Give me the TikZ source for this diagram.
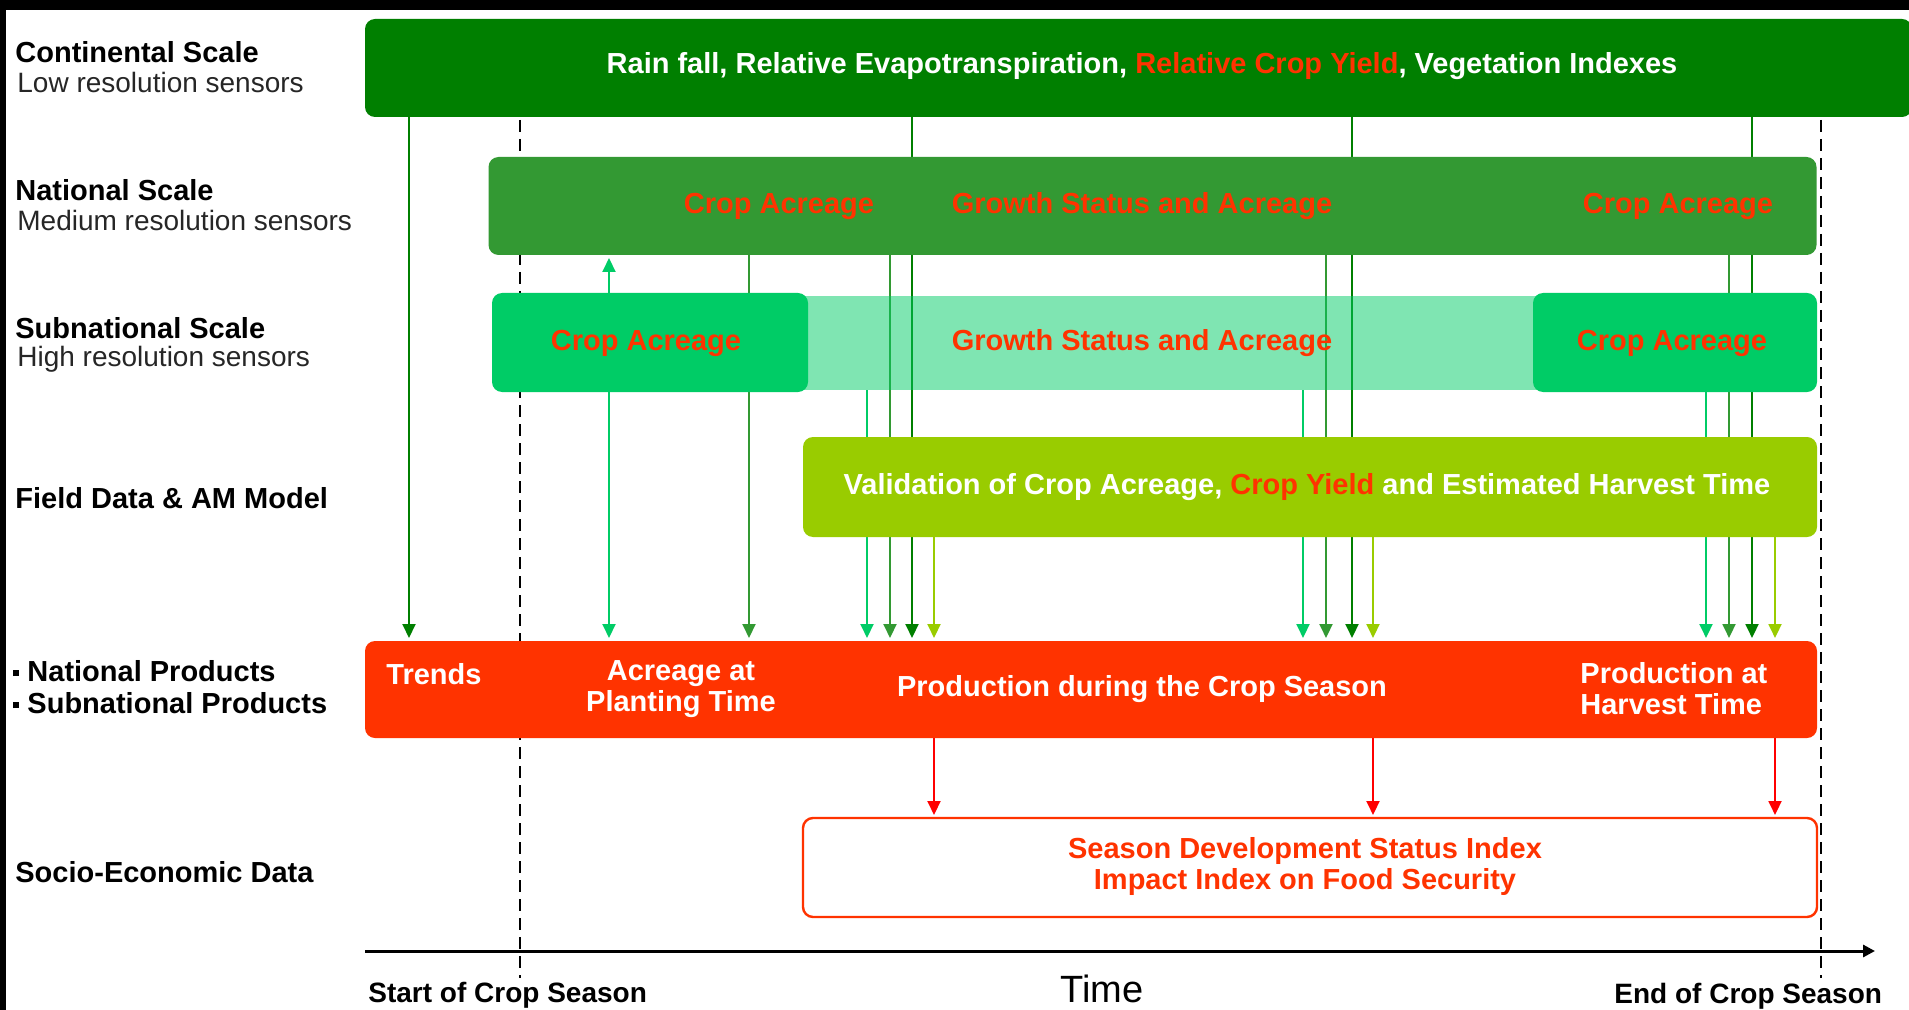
\documentclass[tikz,border=0pt]{standalone}
\usepackage{fontspec}
\setmainfont{Liberation Sans}
\usetikzlibrary{arrows.meta}

\definecolor{contgreen}{HTML}{007F00}
\definecolor{natgreen}{HTML}{339933}
\definecolor{subgreen}{HTML}{00CC66}
\definecolor{fieldgreen}{HTML}{99CC00}
\definecolor{prodred}{HTML}{FF3300}
\definecolor{linkred}{HTML}{FF0000}

\tikzset{
  box/.style={rounded corners=5pt, inner sep=0pt, outer sep=0pt},
  lab/.style={anchor=west, inner sep=0pt, font=\bfseries\fontsize{14.5}{16}\selectfont},
  sublab/.style={anchor=west, inner sep=0pt, font=\fontsize{14}{15}\selectfont, text=black!85},
  intext/.style={inner sep=0pt, font=\bfseries\fontsize{14.5}{15.5}\selectfont, text=white, align=center},
  redtext/.style={intext, text=prodred},
  feed/.style={line width=1pt, -{Triangle[length=7pt,width=6.5pt]}, shorten >=1.5pt},
  season/.style={line width=1.2pt, dash pattern=on 6pt off 3.5pt},
  axlab/.style={anchor=west, inner sep=0pt, font=\bfseries\fontsize{14}{16}\selectfont},
}

\begin{document}
\begin{tikzpicture}[x=0.5pt,y=-0.5pt]
\useasboundingbox (0,0) rectangle (1909,1010);
\fill[white] (0,0) rectangle (1909,1010);
\fill[black] (0,0) rectangle (1909,10);
\fill[black] (0,0) rectangle (6,1010);

% x positions of the feeds
\foreach \n/\x in {c1/409,c2/912,c3/1352,c4/1752,
                   n1/749,n2/890,n3/1326,n4/1729,
                   s1/609,s2/867,s3/1303,s4/1706,
                   f1/934,f2/1373,f3/1775}
  \coordinate (\n) at (\x,0);

% season limits
\coordinate (st0) at (520,120);
\coordinate (st1) at (520,978);
\coordinate (en0) at (1821,120);
\coordinate (en1) at (1821,978);
\draw[season] (st0) -- (st1);
\draw[season] (en0) -- (en1);

% box outlines as named nodes
\path
  (1138.5,68)  node[box, minimum width=773.5pt, minimum height=49pt] (cont) {}
  (1152.5,206) node[box, minimum width=664pt,   minimum height=49pt] (nat) {}
  (650,342.5)  node[box, minimum width=158pt,   minimum height=49.5pt] (subL) {}
  (1172.5,343) node[box, minimum width=372.5pt, minimum height=47pt] (subM) {}
  (1675,342.5) node[box, minimum width=142pt,   minimum height=49.5pt] (subR) {}
  (1310,487)   node[box, minimum width=507pt,   minimum height=50pt] (field) {}
  (1091,689.5) node[box, minimum width=726pt,   minimum height=48.5pt] (prod) {}
  (1310,867.5) node[box, minimum width=507pt,   minimum height=49.5pt] (socio) {};

% connectors into the products bar
\foreach \p in {c1,c2,c3,c4}
  \draw[feed, contgreen] (cont.south -| \p) -- (prod.north -| \p);
\foreach \p in {n1,n2,n3,n4}
  \draw[feed, natgreen] (nat.south -| \p) -- (prod.north -| \p);
\draw[feed, subgreen] (subL.south -| s1) -- (prod.north -| s1);
\draw[feed, subgreen] (subM.south -| s2) -- (prod.north -| s2);
\draw[feed, subgreen] (subM.south -| s3) -- (prod.north -| s3);
\draw[feed, subgreen] (subR.south -| s4) -- (prod.north -| s4);
\draw[feed, subgreen] (subL.north -| s1) -- (nat.south -| s1);
\foreach \p in {f1,f2,f3}
  \draw[feed, fieldgreen] (field.south -| \p) -- (prod.north -| \p);
\foreach \p in {f1,f2,f3}
  \draw[feed, linkred] (prod.south -| \p) -- (socio.north -| \p);

% filled boxes
\fill[contgreen, rounded corners=5pt] (cont.north west) rectangle (cont.south east);
\fill[natgreen, rounded corners=5pt] (nat.north west) rectangle (nat.south east);
\fill[subgreen, fill opacity=0.5] (subM.north west) rectangle (subM.south east);
\fill[subgreen, rounded corners=5pt] (subL.north west) rectangle (subL.south east);
\fill[subgreen, rounded corners=5pt] (subR.north west) rectangle (subR.south east);
\fill[fieldgreen, rounded corners=5pt] (field.north west) rectangle (field.south east);
\fill[prodred, rounded corners=5pt] (prod.north west) rectangle (prod.south east);
\draw[prodred, line width=1.2pt, fill=white, rounded corners=5pt] (socio.north west) rectangle (socio.south east);

% texts in the boxes
\node[intext] (tcont) at (1142,66) {Rain fall, Relative Evapotranspiration, \textcolor{prodred}{Relative Crop Yield}, Vegetation Indexes};
\node[redtext] (tn1) at (779,206) {Crop Acreage};
\node[redtext] (tn2) at (1142,206) {Growth Status and Acreage};
\node[redtext] (tn3) at (1678,206) {Crop Acreage};
\node[redtext] (ts1) at (646,343) {Crop Acreage};
\node[redtext] (ts2) at (1142,343) {Growth Status and Acreage};
\node[redtext] (ts3) at (1672,343) {Crop Acreage};
\node[intext] (tf) at (1307,487) {Validation of Crop Acreage, \textcolor{prodred}{Crop Yield} and Estimated Harvest Time};
\node[intext] (tp1) at (434,674) {Trends};
\node[intext] (tp2) at (681,689) {Acreage at\\Planting Time};
\node[intext] (tp3) at (1142,689) {Production during the Crop Season};
\node[intext, align=left, anchor=west] (tp4) at (1580,689) {Production at\\Harvest Time};
\node[redtext] (tso) at (1305,866) {Season Development Status Index\\Impact Index on Food Security};

% row labels
\node[lab] (l1) at (15,52) {Continental Scale};
\node[sublab] (l1b) at (17,82) {Low resolution sensors};
\node[lab] (l2) at (15,190) {National Scale};
\node[sublab] (l2b) at (17,220) {Medium resolution sensors};
\node[lab] (l3) at (15,328) {Subnational Scale};
\node[sublab] (l3b) at (17,359) {High resolution sensors};
\node[lab] (l4) at (15,498) {Field Data \& AM Model};
\node[lab] (l5) at (13,671) {\raisebox{0.35ex}{\rule{3pt}{3pt}}\ National Products};
\node[lab] (l5b) at (13,703) {\raisebox{0.35ex}{\rule{3pt}{3pt}}\ Subnational Products};
\node[lab] (l6) at (15,872) {Socio-Economic Data};

% time axis
\coordinate (axL) at (365,951);
\coordinate (axR) at (1875,951);
\draw[line width=1.5pt, -{Triangle[length=6pt,width=6pt]}] (axL) -- (axR);
\node[axlab] (ax1) at (368,995) {Start of Crop Season};
\node[inner sep=0pt, font=\fontsize{19}{21}\selectfont] (ax2) at (1102,989) {Time};
\node[axlab] (ax3) at (1614,996) {End of Crop Season};
\end{tikzpicture}
\end{document}
